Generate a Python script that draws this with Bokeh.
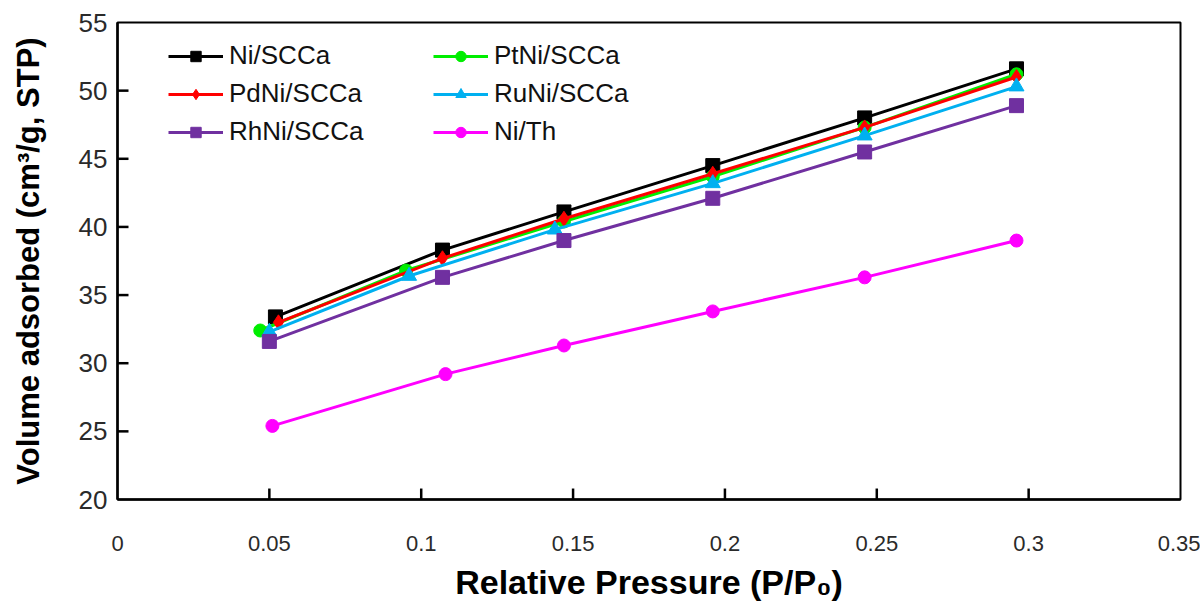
from bokeh.plotting import figure
from bokeh.models import Range1d, FixedTicker, Legend, LegendItem
from bokeh.embed import file_html
from bokeh.resources import INLINE

# ---- data ----
x_ni = [0.052, 0.107, 0.147, 0.196, 0.246, 0.296]
y_ni = [33.4, 38.3, 41.1, 44.5, 48.0, 51.6]

x_pt = [0.047, 0.095, 0.147, 0.196, 0.246, 0.296]
y_pt = [32.4, 36.8, 40.4, 43.7, 47.3, 51.2]

x_pd = [0.053, 0.107, 0.147, 0.196, 0.246, 0.296]
y_pd = [33.0, 37.7, 40.6, 43.9, 47.3, 51.0]

x_ru = [0.050, 0.096, 0.144, 0.196, 0.246, 0.296]
y_ru = [32.3, 36.4, 39.8, 43.2, 46.7, 50.3]

x_rh = [0.050, 0.107, 0.147, 0.196, 0.246, 0.296]
y_rh = [31.6, 36.3, 39.0, 42.1, 45.5, 48.9]

x_th = [0.051, 0.108, 0.147, 0.196, 0.246, 0.296]
y_th = [25.4, 29.2, 31.3, 33.8, 36.3, 39.0]

series_names = ["Ni/SCCa", "PtNi/SCCa", "PdNi/SCCa", "RuNi/SCCa", "RhNi/SCCa", "Ni/Th"]
x_ticks = [0, 0.05, 0.1, 0.15, 0.2, 0.25, 0.3, 0.35]
x_tick_labels = ["0", "0.05", "0.1", "0.15", "0.2", "0.25", "0.3", "0.35"]
y_ticks = [20, 25, 30, 35, 40, 45, 50, 55]

X_MIN, X_MAX = 0, 0.35
Y_MIN, Y_MAX = 20, 55
FRAME_W, FRAME_H = 1063, 478
TICK_PX = 11

# ---- figure ----
p = figure(width=1200, height=603, output_backend="svg", toolbar_location=None,
           x_range=Range1d(X_MIN, X_MAX), y_range=Range1d(Y_MIN, Y_MAX),
           min_border_left=117, min_border_right=20, min_border_top=22, min_border_bottom=103)
p.background_fill_color = "white"
p.border_fill_color = "white"
p.xgrid.visible = False
p.ygrid.visible = False
p.outline_line_color = "black"
p.outline_line_width = 2
p.outline_line_alpha = 1

for ax in (p.xaxis[0], p.yaxis[0]):
    ax.axis_line_width = 2.5
    ax.axis_line_color = "black"
    ax.major_tick_in = 0
    ax.major_tick_out = 0
    ax.minor_tick_line_color = None
    ax.major_label_text_color = "#2a2a2a"
    ax.axis_label_text_font = "Liberation Sans"
    ax.axis_label_text_font_style = "bold"
    ax.axis_label_text_color = "black"

p.xaxis.ticker = FixedTicker(ticks=x_ticks)
p.xaxis.major_label_overrides = {t: l for t, l in zip(x_ticks, x_tick_labels)}
p.xaxis.major_label_text_font = "Liberation Sans"
p.xaxis.major_label_text_font_size = "22px"
p.xaxis.major_label_standoff = 36
p.xaxis.axis_label = "Relative Pressure (P/P\u2080)"
p.xaxis.axis_label_text_font_size = "34px"
p.xaxis.axis_label_standoff = 9

p.yaxis.ticker = FixedTicker(ticks=y_ticks)
p.yaxis.major_label_text_font = "Liberation Sans"
p.yaxis.major_label_text_font_size = "26px"
p.yaxis.major_label_standoff = 10
p.yaxis.axis_label = "Volume adsorbed (cm\u00b3/g, STP)"
p.yaxis.axis_label_text_font_size = "31px"
p.yaxis.axis_label_standoff = 30

# inward tick marks, derived from the tick lists
xt = x_ticks[1:-1]
yt = y_ticks[1:-1]
dy = (Y_MAX - Y_MIN) * TICK_PX / FRAME_H
dx = (X_MAX - X_MIN) * TICK_PX / FRAME_W
p.segment(x0=xt, y0=[Y_MIN] * len(xt), x1=xt, y1=[Y_MIN + dy] * len(xt),
          line_color="black", line_width=2.5, level="overlay")
p.segment(x0=[X_MIN] * len(yt), y0=yt, x1=[X_MIN + dx] * len(yt), y1=yt,
          line_color="black", line_width=2.5, level="overlay")

styles = [
    (x_ni, y_ni, "#000000", "square", 14),
    (x_pt, y_pt, "#00ee00", "circle", 13),
    (x_pd, y_pd, "#ff0000", "diamond", 15),
    (x_ru, y_ru, "#00b0f0", "triangle", 15),
    (x_rh, y_rh, "#7030a0", "square", 14),
    (x_th, y_th, "#ff00ff", "circle", 13),
]

items = []
for name, (xs, ys, col, mk, sz) in zip(series_names, styles):
    lr = p.line(xs, ys, line_color=col, line_width=3)
    sr = p.scatter(xs, ys, marker=mk, size=sz, fill_color=col, line_color=col)
    items.append(LegendItem(label=name, renderers=[lr, sr]))

def make_legend(its, loc):
    lg = Legend(items=its, location=loc, orientation="vertical")
    lg.border_line_color = None
    lg.background_fill_alpha = 0
    lg.padding = 0
    lg.margin = 0
    lg.spacing = 7
    lg.glyph_width = 55
    lg.glyph_height = 26
    lg.label_height = 26
    lg.label_standoff = 6
    lg.label_text_font = "Liberation Sans"
    lg.label_text_font_size = "26px"
    lg.label_text_color = "#111111"
    return lg

p.add_layout(make_legend([items[0], items[2], items[4]], (51, 352)))
p.add_layout(make_legend([items[1], items[3], items[5]], (316, 352)))

open("out.html", "w").write(file_html(p, INLINE))
